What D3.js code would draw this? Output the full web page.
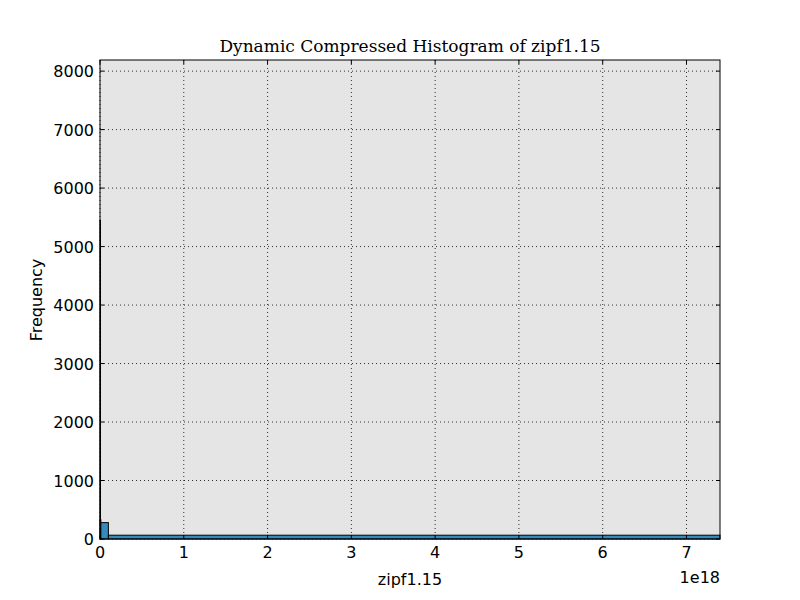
<!DOCTYPE html><html><head><script src="https://cdn.jsdelivr.net/npm/d3@7"></script>
<style>body{margin:0;background:#fff}text{font-family:"DejaVu Sans",sans-serif}</style></head><body><svg width="800" height="600"></svg>
<script>
const binStarts=[0,0.002e18,0.01e18,0.1e18];
const binEnds=[0.002e18,0.01e18,0.1e18,7.4e18];
const counts=[5450,330,280,65];
const yTicks=[0,1000,2000,3000,4000,5000,6000,7000,8000];
const xTicks=[0,1,2,3,4,5,6,7];
const svg=d3.select("svg");
const L=100,R=720,T=60,B=539;
const x=d3.scaleLinear().domain([0,7.4e18]).range([L,R]);
const y=d3.scaleLinear().domain([0,8190]).range([B,T]);
svg.append("rect").attr("x",L).attr("y",T).attr("width",R-L).attr("height",B-T).attr("fill","#e5e5e5");
const g=svg.append("g");
xTicks.forEach(t=>{g.append("line").attr("x1",x(t*1e18)).attr("x2",x(t*1e18)).attr("y1",T).attr("y2",B).attr("stroke","#000").attr("stroke-dasharray","1,3").attr("stroke-width",0.8);});
yTicks.forEach(t=>{g.append("line").attr("x1",L).attr("x2",R).attr("y1",y(t)).attr("y2",y(t)).attr("stroke","#000").attr("stroke-dasharray","1,3").attr("stroke-width",0.8);});
counts.forEach((c,i)=>{svg.append("rect").attr("x",x(binStarts[i])).attr("width",Math.max(0.5,x(binEnds[i])-x(binStarts[i]))).attr("y",y(c)).attr("height",B-y(c)).attr("fill","#348abd").attr("stroke","#000").attr("stroke-width",1);});
svg.append("rect").attr("x",L).attr("y",T).attr("width",R-L).attr("height",B-T).attr("fill","none").attr("stroke","#000");
xTicks.forEach(t=>{svg.append("line").attr("x1",x(t*1e18)).attr("x2",x(t*1e18)).attr("y1",B).attr("y2",B-4).attr("stroke","#000");svg.append("line").attr("x1",x(t*1e18)).attr("x2",x(t*1e18)).attr("y1",T).attr("y2",T+4).attr("stroke","#000");
svg.append("text").attr("x",x(t*1e18)).attr("y",B+19).attr("text-anchor","middle").attr("font-size",16).text(t);});
yTicks.forEach(t=>{svg.append("line").attr("x1",L).attr("x2",L+4).attr("y1",y(t)).attr("y2",y(t)).attr("stroke","#000");svg.append("line").attr("x1",R).attr("x2",R-4).attr("y1",y(t)).attr("y2",y(t)).attr("stroke","#000");
svg.append("text").attr("x",L-6).attr("y",y(t)+6).attr("text-anchor","end").attr("font-size",16).text(t);});
svg.append("text").attr("x",720).attr("y",583).attr("text-anchor","end").attr("font-size",16).text("1e18");
svg.append("text").attr("x",410).attr("y",585).attr("text-anchor","middle").attr("font-size",16).text("zipf1.15");
svg.append("text").attr("transform","translate(42,300) rotate(-90)").attr("text-anchor","middle").attr("font-size",16).text("Frequency");
svg.append("text").attr("x",410).attr("y",52).attr("text-anchor","middle").attr("font-size",17).attr("style","font-family:'DejaVu Serif',serif").text("Dynamic Compressed Histogram of zipf1.15");
</script></body></html>
